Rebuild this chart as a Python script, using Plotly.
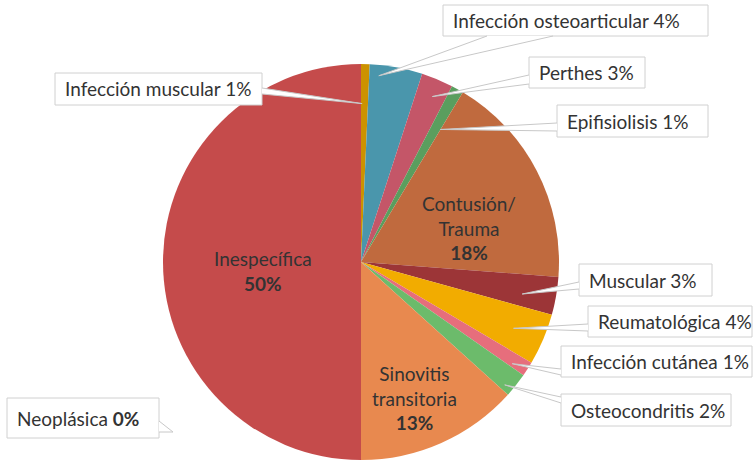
import math
import plotly.graph_objects as go

# ---------------- data ----------------
labels = ["Infección muscular", "Infección osteoarticular", "Perthes", "Epifisiolisis",
          "Contusión/Trauma", "Muscular", "Reumatológica", "Infección cutánea",
          "Osteocondritis", "Sinovitis transitoria", "Neoplásica", "Inespecífica"]
values = [0.7, 4.3, 2.6, 1.0, 17.6, 3.1, 4.2, 1.2, 2.0, 13.3, 0.0, 50.0]
colors = ["#CC9200", "#4A96AC", "#C45668", "#5A9E5E", "#C06A3E", "#9C3537",
          "#F2AC00", "#E66E7C", "#6CBB6B", "#E8894F", "#A0A0A0", "#C54B4B"]

# ---------------- layout helpers ----------------
W, H = 754, 464
CX, CY, R = 361, 262, 198
FONT = "Lato"
FS = 19
TXT = "#333333"


def px(x):
    return x / W


def py(y):
    return 1 - y / H


total = sum(values)
pcts = [round(v / total * 100) for v in values]
starts = []
acc = 0.0
for v in values:
    starts.append(acc)
    acc += v


def slice_point(i, frac, rfrac):
    p = (starts[i] + frac * values[i]) / total
    a = 2 * math.pi * p
    return CX + rfrac * R * math.sin(a), CY - rfrac * R * math.cos(a)


fig = go.Figure(go.Pie(
    labels=labels, values=values, sort=False, direction="clockwise", rotation=0,
    marker=dict(colors=colors, line=dict(width=0)), textinfo="none",
    hovertemplate="%{label}: %{percent}<extra></extra>",
    domain=dict(x=[px(CX - R), px(CX + R)], y=[py(CY + R), py(CY - R)]),
))

shapes = []
annotations = []

# callouts: index, box (x0,y0,x1,y1), base points, tip (frac, rfrac) or fixed px
callouts = [
    (0, (55, 73, 262, 105), ((262, 88), (262, 94)), (0.16, 0.80)),
    (1, (443, 5, 708, 36), ((487, 36), (553, 36)), (0.19, 0.945)),
    (2, (529, 57, 645, 88), ((529, 75), (529, 84)), (0.57, 0.91)),
    (3, (557, 105, 708, 137), ((557, 123), (557, 131)), (0.98, 0.78)),
    (5, (579, 264, 712, 296), ((579, 282), (579, 289)), (0.62, 0.83)),
    (6, (588, 306, 752, 337), ((588, 324), (588, 331)), (0.53, 0.84)),
    (7, (561, 346, 752, 377), ((561, 369), (561, 375)), (0.77, 0.92)),
    (8, (561, 394, 731, 426), ((561, 397), (561, 403)), (0.78, 0.955)),
    (10, (7, 398, 159, 438), ((159, 421), (159, 432)), ("px", (173, 432))),
]

for idx, (x0, y0, x1, y1), (b1, b2), tipspec in callouts:
    if tipspec[0] == "px":
        tx, ty = tipspec[1]
    else:
        tx, ty = slice_point(idx, tipspec[0], tipspec[1])
    shapes.append(dict(type="rect", xref="paper", yref="paper",
                       x0=px(x0), x1=px(x1), y0=py(y1), y1=py(y0),
                       fillcolor="white", line=dict(color="#D0D0D0", width=1)))
    path = "M {} {} L {} {} L {} {} Z".format(px(b1[0]), py(b1[1]), px(tx), py(ty),
                                              px(b2[0]), py(b2[1]))
    shapes.append(dict(type="path", xref="paper", yref="paper", path=path,
                       fillcolor="white", line=dict(width=0)))
    for b in (b1, b2):
        shapes.append(dict(type="line", xref="paper", yref="paper",
                           x0=px(b[0]), y0=py(b[1]), x1=px(tx), y1=py(ty),
                           line=dict(color="#C8C8C8", width=1)))
    if pcts[idx] == 0:
        text = "{} <b>{}%</b>".format(labels[idx], pcts[idx])
    else:
        text = "{} {}%".format(labels[idx], pcts[idx])
    annotations.append(dict(x=px(x0 + 8), y=py((y0 + y1) / 2), xref="paper", yref="paper",
                            xanchor="left", yanchor="middle", showarrow=False, text=text,
                            font=dict(family=FONT, size=FS, color=TXT)))

# inside labels
inside = [
    (11, labels[11], (263, 271)),
    (4, labels[4].replace("/", "/<br>"), (469, 228)),
    (9, labels[9].replace(" ", "<br>"), (414, 398)),
]
for idx, name, (x, y) in inside:
    annotations.append(dict(x=px(x), y=py(y), xref="paper", yref="paper",
                            xanchor="center", yanchor="middle", showarrow=False,
                            text="{}<br><b>{}%</b>".format(name, pcts[idx]),
                            font=dict(family=FONT, size=FS, color=TXT)))

fig.update_layout(width=W, height=H, margin=dict(l=0, r=0, t=0, b=0),
                  paper_bgcolor="white", plot_bgcolor="white", showlegend=False,
                  shapes=shapes, annotations=annotations)

fig.write_html("out.html", config={"displayModeBar": False},
               post_script="document.body.style.margin='0px';")
